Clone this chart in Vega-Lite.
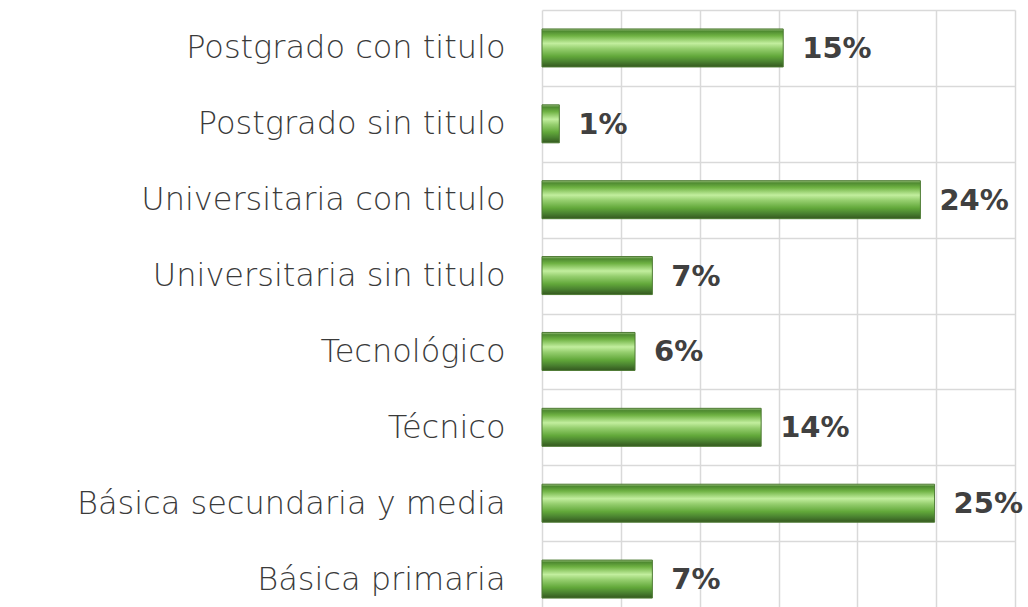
{
  "$schema": "https://vega.github.io/schema/vega-lite/v6.json",
  "autosize": "none",
  "width": 473,
  "height": 607,
  "padding": {"left": 542, "top": 10, "right": 13, "bottom": 0},
  "background": "white",
  "config": {"view": {"stroke": null}},
  "data": {
    "values": [
      {"nivel": "Postgrado con titulo", "v": 0.153},
      {"nivel": "Postgrado sin titulo", "v": 0.011},
      {"nivel": "Universitaria con titulo", "v": 0.240},
      {"nivel": "Universitaria sin titulo", "v": 0.070},
      {"nivel": "Tecnológico", "v": 0.059},
      {"nivel": "Técnico", "v": 0.139},
      {"nivel": "Básica secundaria y media", "v": 0.249},
      {"nivel": "Básica primaria ", "v": 0.070}
    ]
  },
  "encoding": {
    "y": {
      "field": "nivel",
      "type": "nominal",
      "sort": null,
      "scale": {"paddingInner": 0, "paddingOuter": 0},
      "axis": {
        "title": null,
        "domain": false,
        "ticks": false,
        "grid": true,
        "tickBand": "extent",
        "gridColor": "#d9d9d9",
        "gridWidth": 1.5,
        "labelFont": "DejaVu Sans",
        "labelFontWeight": 200,
        "labelFontSize": 32,
        "labelColor": "#3a3a3a",
        "labelPadding": 37,
        "labelLimit": 600
      }
    },
    "x": {
      "field": "v",
      "type": "quantitative",
      "scale": {"domain": [0, 0.3], "nice": false},
      "axis": {
        "title": null,
        "labels": false,
        "ticks": false,
        "domain": false,
        "grid": true,
        "values": [0, 0.05, 0.1, 0.15, 0.2, 0.25, 0.3],
        "gridColor": "#d9d9d9",
        "gridWidth": 1.5
      }
    }
  },
  "layer": [
    {
      "mark": {
        "type": "bar",
        "size": 38,
        "stroke": "#4d7a33",
        "strokeWidth": 1,
        "color": {
          "gradient": "linear",
          "x1": 0, "y1": 0, "x2": 0, "y2": 1,
          "stops": [
            {"offset": 0, "color": "#9cc27e"},
            {"offset": 0.06, "color": "#4e8a30"},
            {"offset": 0.18, "color": "#6fb243"},
            {"offset": 0.38, "color": "#c2ee9e"},
            {"offset": 0.52, "color": "#95ce6e"},
            {"offset": 0.72, "color": "#62a83a"},
            {"offset": 0.86, "color": "#4a8230"},
            {"offset": 1, "color": "#34581f"}
          ]
        }
      }
    },
    {
      "mark": {
        "type": "text",
        "align": "left",
        "baseline": "middle",
        "dx": 19,
        "dy": 1,
        "font": "DejaVu Sans",
        "fontWeight": "bold",
        "fontSize": 29,
        "color": "#404040"
      },
      "encoding": {
        "text": {"field": "v", "type": "quantitative", "format": ".0%"}
      }
    }
  ]
}
